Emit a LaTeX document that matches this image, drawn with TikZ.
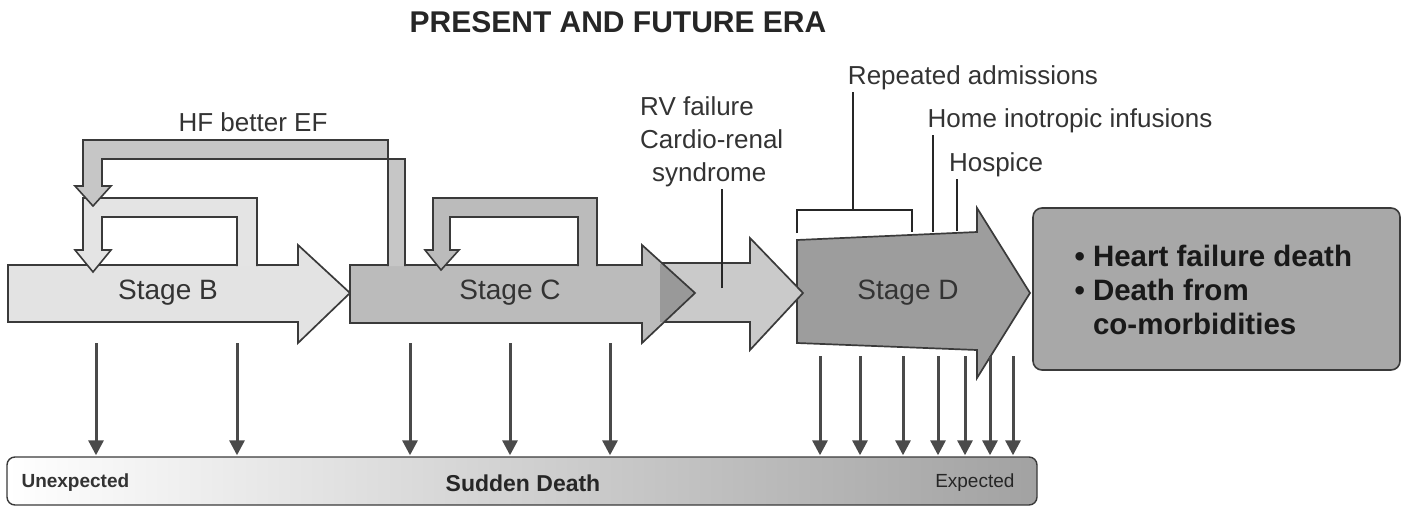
\documentclass[tikz,border=0pt]{standalone}
\usepackage{fontspec}
\setmainfont{Liberation Sans}
\usetikzlibrary{positioning}
\usetikzlibrary{arrows.meta}
\usetikzlibrary{calc}
\definecolor{edgegray}{HTML}{3A3A3A}
\definecolor{stagebfill}{HTML}{E3E3E3}
\definecolor{stagecfill}{HTML}{BBBBBB}
\definecolor{rvfill}{HTML}{CACACA}
\definecolor{stagedfill}{HTML}{9D9D9D}
\definecolor{outfill}{HTML}{A8A8A8}
\definecolor{hfloopfill}{HTML}{C6C6C6}
\definecolor{bloopfill}{HTML}{E4E4E4}
\definecolor{dropgray}{HTML}{4A4A4A}
\definecolor{barright}{HTML}{A2A2A2}

\tikzset{
  stagearrow/.style={draw=edgegray,line width=1.7pt,line join=miter},
  loopband/.style={draw=edgegray,line width=1.6pt,line join=miter},
  stagelabel/.style={font=\fontsize{28}{32}\selectfont,text=black!80},
  cuelabel/.style={font=\fontsize{26}{33}\selectfont,text=black!80,inner sep=2pt},
  tickline/.style={draw=black!85,line width=1.6pt},
  droparrow/.style={draw=dropgray,line width=3pt,shorten >=1pt,-{Triangle[length=15pt,width=15pt]}},
}

\begin{document}
\begin{tikzpicture}[x=1pt,y=-1pt]
	\useasboundingbox (0,0) rectangle (1402,509);
	% title
	\node[font=\bfseries\fontsize{30}{33}\selectfont,text=black!85] (title) at (618,22) {PRESENT AND FUTURE ERA};
	% stage D
	\draw[stagearrow,fill=stagedfill] (797,240) -- (977,232) -- (977,208) -- (1030,293) -- (977,378) -- (977,350) -- (797,343) -- cycle;
	% RV failure arrow
	\draw[stagearrow,fill=rvfill] (655,263) -- (750,263) -- (750,238) -- (803,293) -- (750,350) -- (750,322) -- (655,322) -- cycle;
	% stage B
	\draw[stagearrow,fill=stagebfill] (8,265) -- (298,265) -- (298,245) -- (350,293) -- (298,343) -- (298,322) -- (8,322) -- cycle;
	% stage C
	\fill[stagecfill] (350,265) -- (642,265) -- (642,245) -- (695,293) -- (642,343) -- (642,323) -- (350,323) -- cycle;
	\begin{scope}
		\clip (660,264) rectangle (700,321);
		\fill[stagecfill!82!black] (642,245) -- (695,293) -- (642,343) -- cycle;
	\end{scope}
	\draw[stagearrow] (350,265) -- (642,265) -- (642,245) -- (695,293) -- (642,343) -- (642,323) -- (350,323) -- cycle;
	% loops
	\draw[loopband,fill=bloopfill] (257,266) -- (257,198) -- (83,198) -- (83,250) -- (75,250) -- (93,272) -- (111,250) -- (102,250) -- (102,217) -- (237,217) -- (237,266);
	\draw[loopband,fill=hfloopfill] (388,266) -- (388,140) -- (83,140) -- (83,186) -- (75,186) -- (93,206) -- (111,186) -- (102,186) -- (102,159) -- (405,159) -- (405,266);
	\draw[loopband,fill=stagecfill] (597,266) -- (597,198) -- (433,198) -- (433,250) -- (425,250) -- (441,270) -- (459,250) -- (450,250) -- (450,217) -- (578,217) -- (578,266);
	% stage names
	\node[stagelabel] (B) at (168,293) {Stage B};
	\node[stagelabel] (C) at (510,293) {Stage C};
	\node[stagelabel] (D) at (908,293) {Stage D};
	% labels
	\node[cuelabel] (hf) at (253,122) {HF better EF};
	\node[cuelabel,align=left,anchor=west] (rv) at (638,142) {RV failure\\Cardio-renal\\\hspace{12pt}syndrome};
	\node[cuelabel] (rep) at (973,78) {Repeated admissions};
	\node[cuelabel] (home) at (1070,121) {Home inotropic infusions};
	\node[cuelabel] (hosp) at (996,165) {Hospice};
	\coordinate (rvfoot) at (722,288);
	\coordinate (repfoot) at (853,210);
	\coordinate (homefoot) at (933,232);
	\coordinate (hospfoot) at (957,231);
	\draw[tickline] (rvfoot) -- (rvfoot |- rv.south);
	\draw[tickline] (797,233) -- (797,210) -- (912,210) -- (912,232);
	\draw[tickline] (repfoot) -- (repfoot |- rep.south);
	\draw[tickline] (homefoot) -- (homefoot |- home.south);
	\draw[tickline] (hospfoot) -- (hospfoot |- hosp.south);
	% outcome
	\node[draw=edgegray,line width=1.6pt,fill=outfill,rounded corners=9pt,minimum width=367pt,minimum height=162pt] (out) at (1216.5,289) {};
	\node[font=\bfseries\fontsize{29.5}{34}\selectfont,align=left,anchor=west,text=black!90] (outtext) at (1071,290) {• Heart failure death\\• Death from\\\phantom{• }co-morbidities};
	% sudden death bar
	\node[draw=edgegray,line width=1.4pt,rounded corners=8pt,minimum width=1030pt,minimum height=48pt,
		left color=white,middle color=white!96!black,right color=barright] (sd) at (522,481) {};
	\node[font=\bfseries\fontsize{23}{26}\selectfont,text=black!85] (sdtext) at (523,483) {Sudden Death};
	\node[font=\bfseries\fontsize{19}{20}\selectfont,text=black!80,anchor=west] (unexp) at (18,483) {Unexpected};
	\node[font=\fontsize{19}{20}\selectfont,text=black!85,anchor=east] (exp) at (1018,483) {Expected};
	% drops
	\foreach \x in {96,237,410,510,610}
		\draw[droparrow] (\x,343) -- (\x,343 |- sd.north);
	\foreach \x in {820,860,903,938,965,990,1013}
		\draw[droparrow] (\x,356) -- (\x,356 |- sd.north);
\end{tikzpicture}
\end{document}
